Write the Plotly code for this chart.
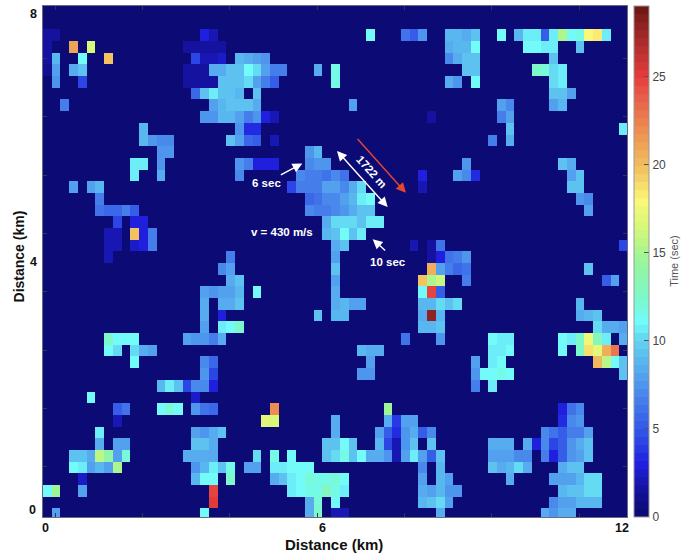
import numpy as np
import plotly.graph_objects as go

# ---- data: (column, seconds) pairs for every non-background cell of each grid row, top row first
r00 = []
r01 = []
r02 = [(0,1.5),(1,1.5),(18,3),(19,2),(37,11),(41,6),(42,5),(43,7.5),(46,9),(47,9),(48,8.5),(49,9.5),(52,11),(54,9),(55,10.5),(56,10.5),(57,5),(58,10.5),(59,15),(60,11),(61,11.5),(62,18),(63,18.5),(64,10.5)]
r03 = [(0,1.5),(3,21),(5,16.5),(16,1.5),(17,1.5),(18,1.5),(19,1.5),(20,1.5),(46,8.5),(47,9),(48,9),(49,11),(55,11),(56,11),(57,10.5),(58,10.5),(61,9.5)]
r04 = [(0,1.5),(1,9),(4,11),(7,19.5),(17,4.5),(18,2),(19,2),(20,2.5),(22,9),(23,8.5),(24,8),(25,7.5),(46,7),(47,8.5),(48,9.5),(49,9.5),(58,9.5)]
r05 = [(0,1),(1,8),(3,8.5),(4,9.5),(16,1.5),(17,1.5),(18,1.5),(19,8.5),(20,8.5),(21,9.5),(22,9.5),(23,11),(24,10),(25,8),(26,6.5),(27,6.5),(31,8.5),(33,11.5),(48,9.5),(49,9.5),(56,12.5),(57,12),(58,10),(59,10.5)]
r06 = [(1,7.5),(4,4.5),(16,1.5),(17,1.5),(18,1.5),(19,1.5),(20,9.5),(21,9.5),(22,9.5),(23,10),(24,8),(25,6.5),(26,5),(33,11.5),(46,8.5),(47,7.5),(49,11),(58,10),(59,10.5)]
r07 = [(17,5.5),(18,9.5),(19,10.5),(20,9.5),(21,9.5),(22,9),(24,9.5),(58,9.5),(59,9.5),(60,8)]
r08 = [(2,6.5),(19,8),(20,9),(21,9.5),(22,9.5),(23,9.5),(24,8.5),(35,8),(52,8),(53,7),(58,8),(59,9)]
r09 = [(18,7.5),(19,7.5),(20,9),(21,9),(22,8),(23,6.5),(24,7.5),(25,3),(26,2),(44,1.5),(52,6.5),(53,8)]
r10 = [(11,9),(22,7.5),(23,3.5),(24,3.5),(53,9.5),(66,10.5)]
r11 = [(11,9),(12,7.5),(13,7),(14,7),(21,9.5),(22,8),(23,5.5),(24,5),(26,2),(51,6.5),(53,8.5)]
r12 = [(13,7.5),(14,7.5),(30,7.5),(31,9)]
r13 = [(10,10.5),(11,10.5),(13,7.5),(22,7.5),(23,6.5),(24,3),(25,3),(26,3),(30,7),(31,7.5),(32,7.5),(48,7.5),(59,9.5),(60,8.5)]
r14 = [(10,10.5),(13,8.5),(22,7),(29,7),(30,6.5),(31,6.5),(32,6),(33,7),(34,6),(43,3),(47,8),(48,7),(49,3.5),(60,8),(61,9.5)]
r15 = [(3,8),(5,8),(6,9),(28,4.5),(29,6.5),(30,6.5),(31,6.5),(32,8),(33,8),(34,7),(35,8.5),(36,10),(43,2),(60,9.5),(61,9.5)]
r16 = [(6,6.5),(30,5.5),(31,6),(32,7),(33,7),(34,8),(35,9),(36,10.5),(37,11),(61,7.5),(62,7)]
r17 = [(6,6),(7,5.5),(8,5.5),(9,6.5),(10,5),(30,7),(31,6.5),(32,6.5),(33,7),(34,7.5),(35,8.5),(36,9.5),(37,9.5),(62,8)]
r18 = [(8,4.5),(10,3),(11,3),(32,8.5),(33,10),(34,10),(35,10),(36,9.5),(37,10.5),(38,10.5)]
r19 = [(7,2),(8,2),(10,19.5),(11,3),(12,6.5),(32,9),(33,9.5),(34,11),(35,9.5),(36,10.5)]
r20 = [(7,2),(8,2),(10,2.5),(11,3),(12,6.5),(33,8.5),(34,9.5),(42,2),(44,1.5),(45,6),(66,4.5)]
r21 = [(7,2),(21,6.5),(33,8),(44,1.5),(45,3),(46,6),(47,6.5),(48,7.5)]
r22 = [(20,7),(21,8),(33,9.5),(44,20.5),(45,8),(46,6.5),(47,5.5),(48,6),(62,9.5)]
r23 = [(21,8.5),(22,9.5),(33,8),(43,19.5),(44,15),(45,16),(48,6.5),(64,5),(65,8)]
r24 = [(18,8),(19,7.5),(20,8),(21,8),(22,9),(24,11),(33,8.5),(43,11),(44,24.5),(45,5)]
r25 = [(18,8.5),(20,8.5),(21,8.5),(22,9.5),(33,8.5),(34,9),(35,8),(36,8),(43,9),(44,9),(45,10),(46,9.5),(47,10),(61,9)]
r26 = [(18,8.5),(20,3),(31,9.5),(33,9),(34,9),(43,8.5),(44,28),(45,9),(61,8.5),(62,9),(63,9.5)]
r27 = [(18,8),(20,10.5),(21,11),(22,12.5),(43,9),(44,9),(45,9.5),(63,10),(64,8.5),(65,8.5),(66,8)]
r28 = [(7,12.5),(8,11),(9,11),(10,11),(16,8),(17,7.5),(18,7.5),(19,6.5),(20,8.5),(41,6),(45,7.5),(51,11),(52,10.5),(53,10.5),(59,11),(60,10.5),(61,12.5),(62,17.5),(63,13),(64,10.5),(66,8.5)]
r29 = [(7,11),(8,10),(10,10),(11,8.5),(12,8),(36,9),(37,8.5),(38,8.5),(51,10.5),(52,10.5),(53,11),(59,11),(61,12.5),(62,19),(63,17),(64,20.5),(65,23)]
r30 = [(10,11),(18,7),(19,5.5),(37,8),(49,8),(51,10.5),(52,11),(63,20),(64,15.5),(65,11),(66,9.5)]
r31 = [(18,7.5),(19,4.5),(36,7.5),(37,7.5),(49,7.5),(50,11),(51,11),(52,11.5),(53,11),(66,9.5)]
r32 = [(13,9),(14,10.5),(15,9.5),(16,4.5),(17,7),(18,7),(19,3),(49,6.5),(51,10.5)]
r33 = [(5,11),(17,2.5)]
r34 = [(8,5),(9,6),(13,11),(14,12),(15,11),(17,7.5),(18,6),(19,5.5),(26,22),(39,14.5),(59,3),(60,6),(61,7)]
r35 = [(8,2),(25,17),(26,16.5),(33,8.5),(39,8.5),(40,4),(41,8),(42,8),(59,3.5),(60,7),(61,7.5)]
r36 = [(6,10.5),(17,8),(18,7.5),(19,8.5),(20,9.5),(33,8.5),(38,8),(39,5),(40,3.5),(41,7.5),(42,8.5),(43,5),(44,7),(57,7),(58,6),(59,5),(60,6.5),(61,6.5),(62,8)]
r37 = [(6,8.5),(8,8),(9,8),(17,9.5),(18,9.5),(19,8.5),(32,9.5),(33,9.5),(34,11),(35,9.5),(38,9),(39,4.5),(40,2),(41,7.5),(42,9.5),(44,9.5),(51,8.5),(52,8.5),(53,8.5),(55,8.5),(56,3),(57,7),(58,4.5),(59,5),(60,7.5),(61,8.5),(62,9.5)]
r38 = [(3,9.5),(4,9.5),(5,8.5),(6,15.5),(7,14),(8,8),(9,12),(16,8.5),(17,8.5),(18,8.5),(19,8.5),(24,10),(26,11.5),(28,11),(32,9.5),(33,10),(34,11.5),(35,9.5),(36,11),(37,8.5),(38,8.5),(39,7.5),(40,2),(41,8),(42,10.5),(43,8),(44,5),(45,9.5),(51,8),(52,8),(53,8),(54,7),(55,7),(57,6.5),(58,3),(59,5),(60,7.5),(61,8),(62,9.5)]
r39 = [(3,11),(4,10.5),(5,8),(6,9),(7,8),(8,15),(17,7.5),(18,9),(19,10.5),(20,9.5),(21,11.5),(23,8),(24,8),(26,10.5),(27,10.5),(28,11),(29,11),(30,11),(43,7),(45,9),(51,9.5),(52,8.5),(53,9),(54,10),(55,8.5),(59,8.5),(60,9.5),(61,9.5)]
r40 = [(4,2.5),(17,9),(18,11),(19,11),(21,12.5),(26,8.5),(27,9.5),(28,10.5),(29,11),(30,12),(31,11.5),(32,11.5),(33,12),(34,11),(43,8),(45,9),(46,8),(53,8.5),(58,8),(59,8),(60,8),(61,9),(62,10),(63,10)]
r41 = [(0,11),(1,14.5),(4,8),(19,24.5),(28,10.5),(29,11),(30,11.5),(31,11.5),(32,13),(33,11.5),(34,10.5),(43,8.5),(44,8),(45,9),(46,7.5),(47,7.5),(59,9),(60,9.5),(61,9.5),(62,10),(63,10)]
r42 = [(19,25),(30,8.5),(31,12),(33,11),(43,9),(44,9.5),(45,10),(46,8),(58,7),(59,8),(60,8),(61,9),(62,9),(63,9)]
r43 = [(1,8),(18,11),(30,8.5),(31,12.5),(33,2),(34,2),(45,8.5),(57,8.5),(58,7.5),(59,8.5),(60,8.5)]
rows = [r00,r01,r02,r03,r04,r05,r06,r07,r08,r09,r10,r11,r12,r13,r14,r15,r16,r17,r18,r19,r20,r21,
        r22,r23,r24,r25,r26,r27,r28,r29,r30,r31,r32,r33,r34,r35,r36,r37,r38,r39,r40,r41,r42,r43]

z_max = 29
cbar_ticks = [0, 5, 10, 15, 20, 25]
color_values = [0, 1.5, 3, 4.5, 6, 7.5, 9, 10, 11, 12.5, 14.5, 16.5, 18, 19.5, 21, 22.5, 24, 25, 26.5, 28, 29]
color_hexes = ["#0b0a70", "#14129c", "#2020e0", "#2e4ce8", "#3f70ea", "#4f96ee", "#5bbcf0", "#62d4f2",
               "#72fcfc", "#7ef8c8", "#98f69a", "#d8f878", "#fcf878", "#f4c864", "#efa658", "#ec8050",
               "#e85a48", "#e63c3c", "#b83030", "#8c2222", "#6a1612"]

# ---- layout geometry (pixels in the 693x554 picture)
W, H = 693, 554
L, R, T, B = 42.7, 627.3, 6.0, 516.7
n_cols, n_rows, levels = 67, 44, 64
cell_w_px, cell_h_px = 8.736, 11.67


def px(x):
    return (x - L) / (R - L)


def py(y):
    return (B - y) / (B - T)


km_x = (R - L) / 12
km_y = (B - T) / 8

z = np.zeros((n_rows, n_cols))
for i, row in enumerate(rows):
    for c, v in row:
        z[i, c] = v
z = z[::-1]
x_edges = np.arange(n_cols + 1) * cell_w_px / km_x
y_edges = 8 - np.arange(n_rows, -1, -1) * cell_h_px / km_y


def hex2rgb(h):
    return np.array([int(h[i:i + 2], 16) for i in (1, 3, 5)], dtype=float)


rgb = np.array([hex2rgb(h) for h in color_hexes])
scale = []
for i in range(levels):
    v = (i + 0.5) * z_max / levels
    col = [np.interp(v, color_values, rgb[:, k]) for k in range(3)]
    s = "rgb(%d,%d,%d)" % tuple(col)
    scale.append([i / levels, s])
    scale.append([(i + 1) / levels, s])

fig = go.Figure(go.Heatmap(
    z=z, x=x_edges, y=y_edges, zmin=0, zmax=z_max, colorscale=scale, hoverongaps=False,
    colorbar=dict(
        x=px(634.3), xanchor="left", xpad=0, y=0, yanchor="bottom", ypad=0, len=1, lenmode="fraction",
        thickness=14.7, thicknessmode="pixels", tickvals=cbar_ticks, ticks="inside", ticklen=5,
        tickcolor="#555555", tickwidth=1, outlinecolor="#999999", outlinewidth=1,
        tickfont=dict(family="Liberation Sans", size=12, color="#444444"),
    ),
))

x_tick_px = [55 + 87.4 * k for k in range(7)]
y_tick_px = [58.3 + 58.33 * k for k in range(8)]
fig.update_xaxes(range=[0, 12], showgrid=False, zeroline=False, showline=True, linecolor="#6a6a80", linewidth=1,
                 mirror="ticks", ticks="inside", ticklen=4, tickcolor="#333355", tickwidth=1, showticklabels=False,
                 tickvals=[(p - L) / km_x for p in x_tick_px])
fig.update_yaxes(range=[0, 8], showgrid=False, zeroline=False, showline=True, linecolor="#6a6a80", linewidth=1,
                 mirror="ticks", ticks="inside", ticklen=4, tickcolor="#333355", tickwidth=1, showticklabels=False,
                 tickvals=[(B - p) / km_y for p in y_tick_px])

black = dict(family="Liberation Sans", size=12.5, color="#111111")
label = dict(family="Liberation Sans", size=15, color="#111111")
white = dict(family="Liberation Sans", size=11.5, color="white")
texts = [
    ("<b>0</b>", 45, 528, black, 0), ("<b>6</b>", 322, 528, black, 0), ("<b>12</b>", 622, 528, black, 0),
    ("<b>8</b>", 33, 14, black, 0), ("<b>4</b>", 33, 262, black, 0), ("<b>0</b>", 32, 510, black, 0),
    ("<b>Distance (km)</b>", 334, 544, label, 0), ("<b>Distance (km)</b>", 19, 256, dict(label, size=14), -90),
    ("Time (sec)", 674, 261, dict(family="Liberation Sans", size=11, color="#555555"), -90),
    ("<b>6 sec</b>", 266.7, 182.7, white, 0), ("<b>10 sec</b>", 388, 261.7, white, 0),
    ("<b>v = 430 m/s</b>", 282.3, 231.7, white, 0), ("<b>1722 m</b>", 371.7, 172, white, 48),
]
for t, x, y, f, a in texts:
    fig.add_annotation(text=t, x=px(x), y=py(y), xref="paper", yref="paper", showarrow=False, font=f, textangle=a,
                       xanchor="center", yanchor="middle", borderpad=0, borderwidth=0)

arrows = [
    (279.3, 175.7, 302.3, 163.3, "white", "end"),
    (335.7, 149.3, 387.7, 207.0, "white", "end+start"),
    (356.3, 137.3, 406.0, 192.7, "#e8452f", "end"),
    (386.7, 251.7, 372.7, 239.0, "white", "end"),
]
for x0, y0, x1, y1, c, side in arrows:
    fig.add_annotation(x=px(x1), y=py(y1), xref="paper", yref="paper", ax=x0 - x1, ay=y0 - y1, axref="pixel", ayref="pixel",
                       text="", showarrow=True, arrowcolor=c, arrowwidth=1.4, arrowhead=2, arrowsize=1.4, startarrowhead=2,
                       startarrowsize=1.4, arrowside=side, standoff=0, startstandoff=0)

fig.update_layout(width=W, height=H, margin=dict(l=L, r=W - R, t=T, b=H - B, pad=0), paper_bgcolor="white",
                  plot_bgcolor="#0b0a70", showlegend=False)
fig.write_html("out.html", config={"displayModeBar": False},
               post_script="document.body.style.margin='0';window.dispatchEvent(new Event('resize'));")
